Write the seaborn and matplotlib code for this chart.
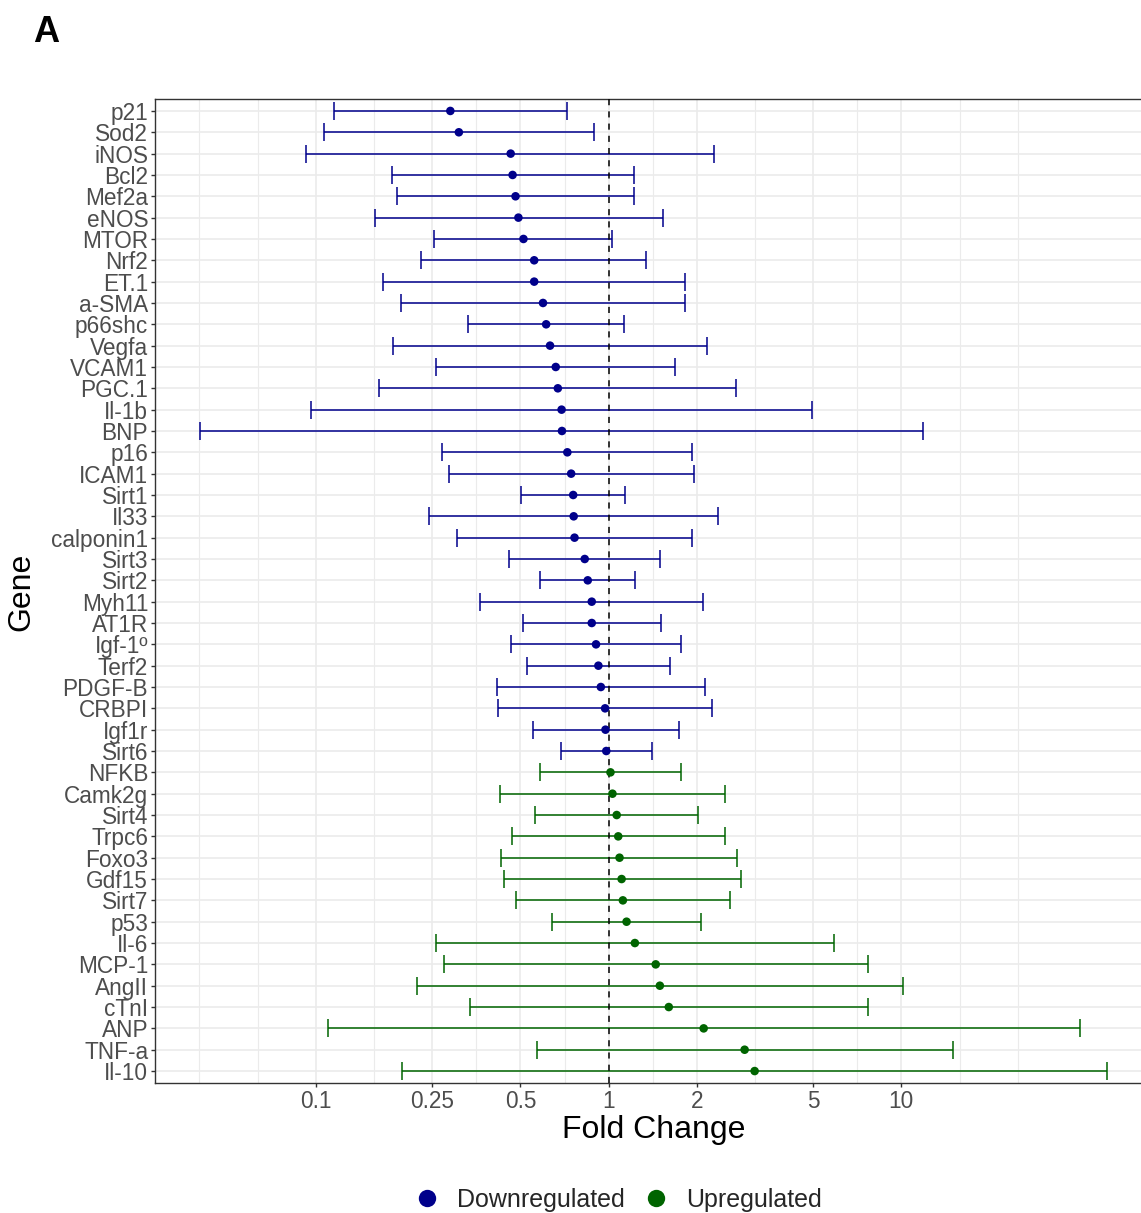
import numpy as np
import pandas as pd
import matplotlib
matplotlib.use("Agg")
import matplotlib.pyplot as plt
import matplotlib.ticker as mticker
import seaborn as sns
from matplotlib.lines import Line2D

# ---------------- data ----------------
genes = ["p21", "Sod2", "iNOS", "Bcl2", "Mef2a", "eNOS", "MTOR", "Nrf2", "ET.1",
         "a-SMA", "p66shc", "Vegfa", "VCAM1", "PGC.1", "Il-1b", "BNP", "p16",
         "ICAM1", "Sirt1", "Il33", "calponin1", "Sirt3", "Sirt2", "Myh11", "AT1R",
         "Igf-1º", "Terf2", "PDGF-B", "CRBPI", "Igf1r", "Sirt6",
         "NFKB", "Camk2g", "Sirt4", "Trpc6", "Foxo3", "Gdf15", "Sirt7", "p53",
         "Il-6", "MCP-1", "AngII", "cTnI", "ANP", "TNF-a", "Il-10"]
fold_change = [0.288, 0.308, 0.463, 0.470, 0.481, 0.492, 0.512, 0.557, 0.557,
               0.597, 0.612, 0.631, 0.660, 0.671, 0.691, 0.693, 0.723,
               0.745, 0.757, 0.760, 0.765, 0.829, 0.849, 0.876, 0.876,
               0.906, 0.923, 0.941, 0.973, 0.976, 0.982,
               1.015, 1.031, 1.066, 1.079, 1.090, 1.108, 1.119, 1.152,
               1.230, 1.449, 1.497, 1.606, 2.113, 2.916, 3.155]
ci_low = [0.1155, 0.1068, 0.0925, 0.1817, 0.1896, 0.1590, 0.2542, 0.2289, 0.1697,
          0.1957, 0.3308, 0.1829, 0.2566, 0.1642, 0.0962, 0.0403, 0.2703,
          0.2839, 0.5019, 0.2428, 0.3041, 0.4582, 0.5832, 0.3648, 0.5102,
          0.4629, 0.5253, 0.4145, 0.4184, 0.5497, 0.6863,
          0.5832, 0.4266, 0.5607, 0.4673, 0.4307, 0.4379, 0.4845, 0.6429,
          0.2582, 0.2730, 0.2208, 0.3362, 0.1096, 0.5683, 0.1970]
ci_high = [0.721, 0.891, 2.298, 1.222, 1.218, 1.535, 1.029, 1.347, 1.824,
           1.830, 1.131, 2.177, 1.692, 2.735, 4.937, 11.89, 1.932,
           1.953, 1.134, 2.374, 1.932, 1.493, 1.234, 2.095, 1.510,
           1.767, 1.627, 2.136, 2.248, 1.738, 1.411,
           1.771, 2.506, 2.017, 2.492, 2.748, 2.824, 2.590, 2.067,
           5.888, 7.679, 10.16, 7.679, 40.82, 15.01, 50.31]
regulation = ["Downregulated"] * 31 + ["Upregulated"] * 15

x_ticks = [0.1, 0.25, 0.5, 1, 2, 5, 10]
x_tick_labels = ["0.1", "0.25", "0.5", "1", "2", "5", "10"]
palette = {"Downregulated": "#00008B", "Upregulated": "#006400"}

df = pd.DataFrame({"gene": genes, "fc": fold_change, "lo": ci_low,
                   "hi": ci_high, "regulation": regulation})
df["pos"] = np.arange(len(df))

# ---------------- style ----------------
sns.set_theme(style="white")
plt.rcParams["font.family"] = ["Liberation Sans", "DejaVu Sans"]

W, H = 1141, 1213
fig = plt.figure(figsize=(W / 100, H / 100), dpi=100)
fig.patch.set_facecolor("white")
ax = fig.add_axes([155 / W, 1 - 1083 / H, 997 / W, 984 / H])
ax.set_facecolor("white")
ax.set_xscale("log")

# limits (ggplot-like 5% expansion in log space)
lmin, lmax = np.log10(df["lo"].min()), np.log10(df["hi"].max())
rng = lmax - lmin
ax.set_xlim(10 ** (lmin - 0.05 * rng), 10 ** (lmax + 0.05 * rng))
ax.set_ylim(len(df) - 1 + 0.56, -0.56)

# grid: major + ggplot-style minor (midpoints in log space, extended)
lt = np.log10(x_ticks)
step = lt[1] - lt[0]
ext = np.concatenate([[lt[0] - step], lt, [lt[-1] + step]])
minor = 10 ** np.concatenate([(ext[:-1] + ext[1:]) / 2, [ext[0], ext[-1]]])
ax.xaxis.set_major_locator(mticker.FixedLocator(x_ticks))
ax.xaxis.set_major_formatter(mticker.FixedFormatter(x_tick_labels))
ax.xaxis.set_minor_locator(mticker.FixedLocator(minor))
ax.xaxis.set_minor_formatter(mticker.NullFormatter())
ax.grid(True, which="major", color="#EBEBEB", lw=1.2, zorder=0)
ax.grid(True, which="minor", axis="x", color="#EBEBEB", lw=0.8, zorder=0)
ax.set_axisbelow(True)

ax.set_yticks(df["pos"])
ax.set_yticklabels(df["gene"])

# error bars
for reg, sub in df.groupby("regulation"):
    ax.errorbar(sub["fc"], sub["pos"],
                xerr=[sub["fc"] - sub["lo"], sub["hi"] - sub["fc"]],
                fmt="none", ecolor=palette[reg], elinewidth=1.1,
                capsize=6.7, capthick=1.1, zorder=2)

ax.axvline(1, color="black", lw=1.1, ls=(0, (4, 4)), zorder=3)

sns.scatterplot(data=df, x="fc", y="pos", hue="regulation", palette=palette,
                s=38, edgecolor="none", linewidth=0, legend=False, ax=ax,
                zorder=4)
ax.set_xlabel("")
ax.set_ylabel("")

for sp in ax.spines.values():
    sp.set_color("#333333")
    sp.set_linewidth(1.0)

ax.tick_params(axis="both", which="major", labelsize=16.3,
               labelcolor="#4D4D4D", color="#333333", length=2.75, width=1.0,
               pad=2.2, left=True, bottom=True)
ax.tick_params(axis="x", which="minor", length=0)

# labels
fig.text(653.5 / W, 1 - 1138 / H, "Fold Change", fontsize=23,
         ha="center", va="baseline", color="black")
fig.text(21.5 / W, 1 - 591.5 / H, "Gene", fontsize=23, rotation=90,
         ha="center", va="center", color="black")
fig.text(33 / W, 1 - 42 / H, "A", fontsize=26, fontweight="bold",
         ha="left", va="baseline", color="black")

handles = [Line2D([], [], marker="o", ls="", color=palette[k],
                  markersize=12.5, markeredgewidth=0) for k in palette]
fig.legend(handles, list(palette.keys()), loc="center",
           bbox_to_anchor=(618 / W, 1 - 1200 / H), ncol=2, frameon=False,
           fontsize=18, handlelength=1.0, handletextpad=0.7,
           columnspacing=0.73, borderpad=0, borderaxespad=0)

fig.savefig("out.png", dpi=100, facecolor="white")
